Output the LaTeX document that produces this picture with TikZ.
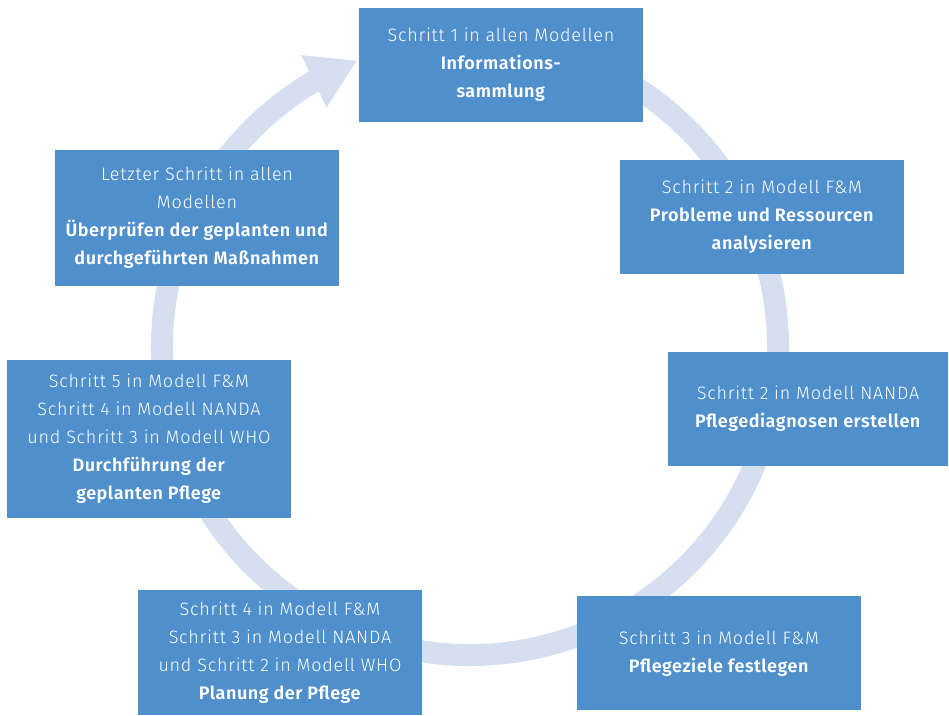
\documentclass[tikz,border=0pt]{standalone}
\usepackage{fontspec}
\setmainfont{Fira Sans Light}[LetterSpace=4.3,
  BoldFont={Fira Sans SemiBold}, BoldFeatures={LetterSpace=3}]
\usepackage{tikz}
\usetikzlibrary{arrows.meta,bending,positioning}
\definecolor{PPblue}{HTML}{4F8FCB}
\definecolor{PPring}{HTML}{D6DFEF}
\tikzset{
  pp/stepbox/.style={fill=PPblue, text=white, align=center, inner sep=0pt,
    minimum width=213pt, minimum height=85.5pt, font=\fontsize{13.5}{21}\selectfont},
  pp/ring/.style={PPring, line width=16.5pt, -{Triangle[length=36pt,width=41pt,flex]}}
}

\begin{document}
\begin{tikzpicture}[x=0.75pt,y=0.75pt]
  \useasboundingbox (0,0) rectangle (949,716);
  \coordinate (hub) at (470,369);

  % ring behind the steps
  \draw[pp/ring] (hub) ++(100:308) arc[start angle=100, end angle=-248.5, radius=231pt];

  \node[pp/stepbox] (info) at (501,651) {Schritt 1 in allen Modellen\\\textbf{Informations-}\\\textbf{sammlung}};
  \node[pp/stepbox] (probleme) at (762,499) {Schritt 2 in Modell F\&M\\\textbf{Probleme und Ressourcen}\\\textbf{analysieren}};
  \node[pp/stepbox, minimum width=210pt] (diagnose) at (808,307) {Schritt 2 in Modell NANDA\\\textbf{Pflegediagnosen erstellen}};
  \node[pp/stepbox] (ziele) at (719,62.5) {Schritt 3 in Modell F\&M\\\textbf{Pflegeziele festlegen}};
  \node[pp/stepbox, minimum height=94pt] (planung) at (280,63.5) {Schritt 4 in Modell F\&M\\Schritt 3 in Modell NANDA\\und Schritt 2 in Modell WHO\\\textbf{Planung der Pflege}};
  \node[pp/stepbox, minimum height=118.5pt] (durchf) at (149,277) {Schritt 5 in Modell F\&M\\Schritt 4 in Modell NANDA\\und Schritt 3 in Modell WHO\\\textbf{Durchführung der}\\\textbf{geplanten Pflege}};
  \node[pp/stepbox, minimum height=102pt] (pruefen) at (197,498) {Letzter Schritt in allen\\Modellen\\\textbf{Überprüfen der geplanten und}\\\textbf{durchgeführten Maßnahmen}};
\end{tikzpicture}
\end{document}
